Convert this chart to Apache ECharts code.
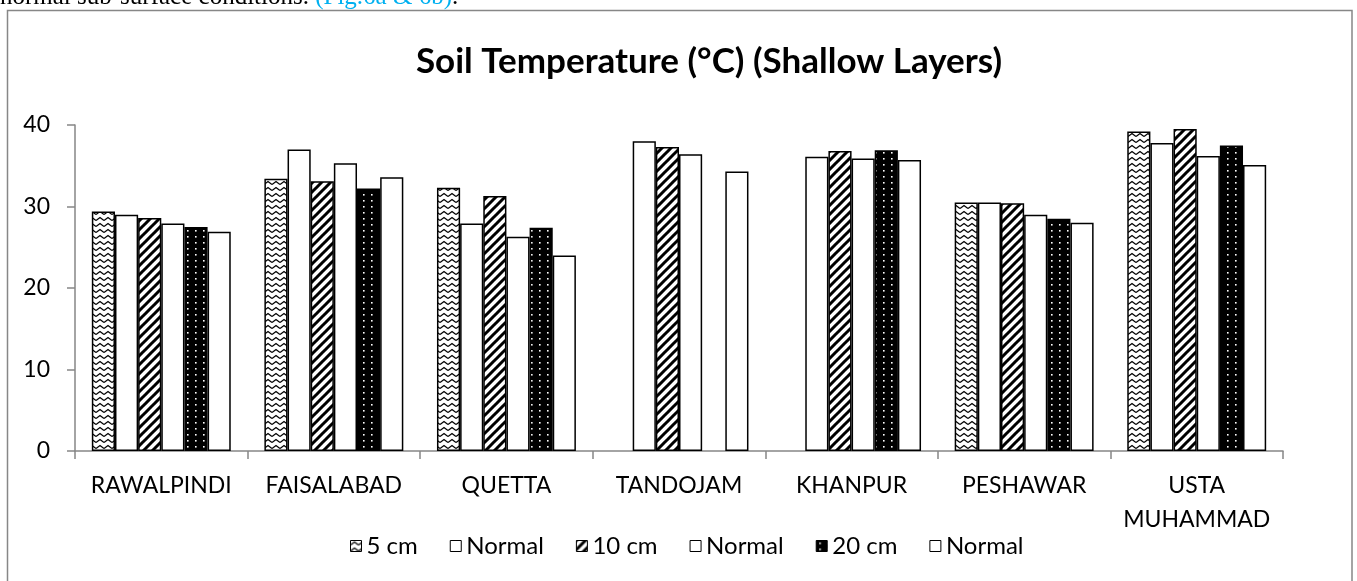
<!DOCTYPE html>
<html>
<head>
<meta charset="utf-8">
<script src="https://cdn.jsdelivr.net/npm/echarts@6/dist/echarts.min.js"></script>
<style>
html,body{margin:0;padding:0;background:#fff;}
#chart{width:1357px;height:581px;}
</style>
</head>
<body>
<div id="chart"></div>
<script>
// ---- data ----
const categories = ['RAWALPINDI', 'FAISALABAD', 'QUETTA', 'TANDOJAM', 'KHANPUR', 'PESHAWAR', 'USTA\nMUHAMMAD'];
const seriesNames = ['5 cm', 'Normal', '10 cm', 'Normal', '20 cm', 'Normal'];
const cm5      = [29.4, 33.4, 32.3, null, null, 30.5, 39.2];
const normal5  = [29.0, 37.0, 27.9, 38.0, 36.1, 30.5, 37.8];
const cm10     = [28.6, 33.1, 31.3, 37.3, 36.8, 30.4, 39.5];
const normal10 = [27.9, 35.3, 26.3, 36.4, 35.9, 29.0, 36.2];
const cm20     = [27.5, 32.2, 27.4, null, 36.9, 28.5, 37.5];
const normal20 = [26.9, 33.6, 24.0, 34.3, 35.7, 28.0, 35.1];
const yTicks = [0, 10, 20, 30, 40];
const titleText = 'Soil Temperature (°C) (Shallow Layers)';
const pageTextA = 'normal sub-surface conditions. ';
const pageTextB = '(Fig.6a & 6b)';
const pageTextC = '.';

// ---- fill patterns ----
function makeCanvas(w, h, draw) {
  const c = document.createElement('canvas');
  c.width = w; c.height = h;
  const ctx = c.getContext('2d');
  draw(ctx, w, h);
  return c;
}
const wavePat = makeCanvas(8, 6, function (ctx, w, h) {
  ctx.fillStyle = '#fff'; ctx.fillRect(0, 0, w, h);
  ctx.strokeStyle = '#000'; ctx.lineWidth = 1.3;
  ctx.beginPath();
  ctx.moveTo(0, 4.5); ctx.lineTo(4, 1.5); ctx.lineTo(8, 4.5);
  ctx.stroke();
});
const stripePat = makeCanvas(9, 9, function (ctx, w, h) {
  ctx.fillStyle = '#fff'; ctx.fillRect(0, 0, w, h);
  ctx.strokeStyle = '#000'; ctx.lineWidth = 3;
  ctx.beginPath();
  ctx.moveTo(-1, h + 1); ctx.lineTo(w + 1, -1);
  ctx.moveTo(-1, 1); ctx.lineTo(1, -1);
  ctx.moveTo(w - 1, h + 1); ctx.lineTo(w + 1, h - 1);
  ctx.stroke();
});
const dotPat = makeCanvas(8, 6, function (ctx, w, h) {
  ctx.fillStyle = '#000'; ctx.fillRect(0, 0, w, h);
  ctx.fillStyle = '#fff'; ctx.fillRect(3, 2, 1.6, 1.6);
});

const fills = [
  { image: wavePat, repeat: 'repeat' },
  '#ffffff',
  { image: stripePat, repeat: 'repeat' },
  '#ffffff',
  { image: dotPat, repeat: 'repeat' },
  '#ffffff'
];
const values = [cm5, normal5, cm10, normal10, cm20, normal20];
// unique internal names (legend dedupes equal names); trimmed for display
const uniqueNames = seriesNames.map(function (n, i) { return n + ' '.repeat(i); });

// widths of the clipped page text above the chart frame (for flowing the pieces)
const PAGE_FONT = '25px "Liberation Serif"';
const mctx = document.createElement('canvas').getContext('2d');
mctx.font = PAGE_FONT;
const wA = mctx.measureText(pageTextA).width;
const wB = mctx.measureText(pageTextB).width;

const FONT = 'Lato';
const chart = echarts.init(document.getElementById('chart'), null, { renderer: 'canvas' });

chart.setOption({
  animation: false,
  backgroundColor: '#fff',
  title: {
    text: titleText,
    left: 704,
    textAlign: 'center',
    top: 39,
    textStyle: { fontFamily: FONT, fontWeight: 'bold', fontSize: 35, color: '#000' }
  },
  legend: {
    data: uniqueNames,
    left: 345,
    top: 529,
    icon: 'rect',
    itemWidth: 11,
    itemHeight: 11,
    itemGap: 32,
    formatter: function (n) { return n.trim(); },
    itemStyle: { borderColor: '#000', borderWidth: 1 },
    textStyle: { fontFamily: FONT, fontSize: 24, color: '#000' }
  },
  grid: { left: 75, right: 74, top: 125, bottom: 130, containLabel: false },
  xAxis: {
    type: 'category',
    data: categories,
    axisLine: { lineStyle: { color: '#868686', width: 1.5 } },
    axisTick: { show: true, length: 8, lineStyle: { color: '#868686', width: 1.5 } },
    axisLabel: { margin: 18, fontFamily: FONT, fontSize: 23, color: '#000', lineHeight: 34, interval: 0 }
  },
  yAxis: {
    type: 'value',
    min: yTicks[0],
    max: yTicks[yTicks.length - 1],
    interval: yTicks[1] - yTicks[0],
    splitLine: { show: false },
    axisLine: { show: true, lineStyle: { color: '#868686', width: 1.5 } },
    axisTick: { show: true, length: 8, lineStyle: { color: '#868686', width: 1.5 } },
    axisLabel: { margin: 25, fontFamily: FONT, fontSize: 23, color: '#000' }
  },
  graphic: [
    {
      type: 'rect', silent: true, z: -1,
      shape: { x: 7.5, y: 10.5, width: 1344.5, height: 620 },
      style: { fill: 'none', stroke: '#878787', lineWidth: 1.5 }
    },
    {
      type: 'text', silent: true, x: 0, y: -2.5,
      style: { text: pageTextA, font: PAGE_FONT, fill: '#000', align: 'left', verticalAlign: 'middle' }
    },
    {
      type: 'text', silent: true, x: wA, y: -2.5,
      style: { text: pageTextB, font: PAGE_FONT, fill: '#00B0F0', align: 'left', verticalAlign: 'middle' }
    },
    {
      type: 'text', silent: true, x: wA + wB, y: -2.5,
      style: { text: pageTextC, font: PAGE_FONT, fill: '#000', align: 'left', verticalAlign: 'middle' }
    }
  ],
  series: values.map(function (arr, i) {
    return {
      name: uniqueNames[i],
      type: 'bar',
      data: arr,
      barGap: '0%',
      barCategoryGap: '19.5%',
      itemStyle: { color: fills[i], borderColor: '#000', borderWidth: 1.5 }
    };
  })
});
</script>
</body>
</html>
